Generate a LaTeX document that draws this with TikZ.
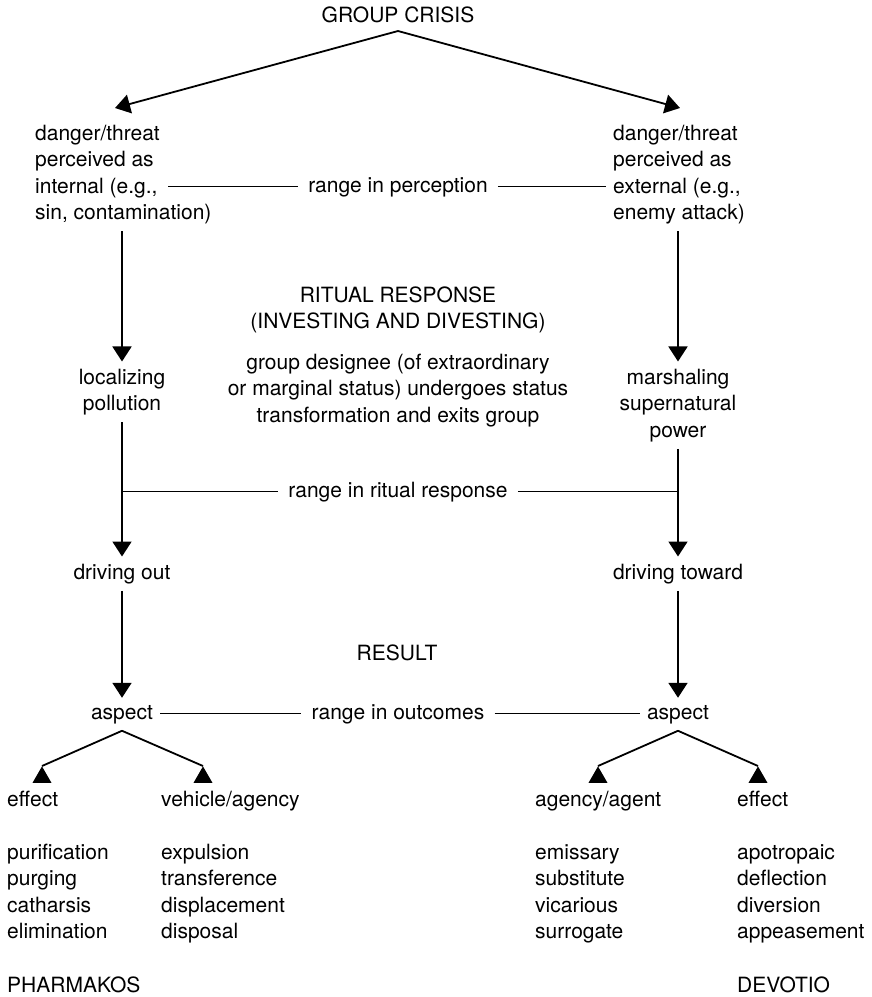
\documentclass[tikz,border=0pt]{standalone}
\usepackage{fontspec}
\setmainfont{TeX Gyre Heros}
\usepackage{tikz}
\usetikzlibrary{
  shapes.geometric,
  arrows.meta,
  positioning
}

\begin{document}
\begin{tikzpicture}[
  x=1pt, y=-1pt,
  font=\fontsize{21}{26.5}\selectfont,
  every node/.style={inner sep=7pt},
  txt/.style={align=left, anchor=base west},
  mid/.style={align=center, anchor=base},
  rangelbl/.style={anchor=base, inner xsep=10pt},
  arrow/.style={
    -{Triangle[length=15pt, width=19pt]},
    line width=1.8pt},
  link/.style={line width=1pt},
  tip/.style={
    regular polygon, regular polygon sides=3,
    fill, inner sep=0pt, minimum size=21.9pt,
    anchor=corner 1}
]
\useasboundingbox (0,0) rectangle (872,997);

\node[mid, anchor=south, inner ysep=8pt, text depth=0pt]
  (crisis) at (398,31) {GROUP CRISIS};
\coordinate (tipI) at (115,108);
\coordinate (tipE) at (680,108);

\node[txt] (thrI) at (28,219.5)
  {danger/threat\\perceived as\\internal (e.g.,\\sin, contamination)};
\node[txt] (thrE) at (606,219.5)
  {danger/threat\\perceived as\\external (e.g.,\\enemy attack)};
\node[rangelbl] (rp) at (398,192) {range in perception};
\coordinate (pcL) at (rp.west -| 168,0);

\node[mid] (ritual) at (398,328.5)
  {RITUAL RESPONSE\\(INVESTING AND DIVESTING)};
\node[mid] (desig) at (398,422)
  {group designee (of extraordinary\\or marginal status) undergoes status\\transformation and exits group};

\node[mid] (locP) at (122,410.5) {localizing\\pollution};
\node[mid] (marP) at (678,437) {marshaling\\supernatural\\power};

\node[rangelbl] (rr) at (398,497) {range in ritual response};

\node[mid] (drvO) at (122,579) {driving out};
\node[mid] (drvT) at (678,579) {driving toward};

\node[mid] (result) at (397,660) {RESULT};

\node[mid] (aspL) at (122,719) {aspect};
\node[mid] (aspR) at (678,719) {aspect};
\node[rangelbl] (ro) at (398,719) {range in outcomes};

\node[tip] (tEL) at (42,766) {};
\node[tip] (tVA) at (203,766) {};
\node[tip] (tAA) at (598,766) {};
\node[tip] (tER) at (758,766) {};

\node[txt] (effL) at (0,806) {effect};
\node[txt] (veh) at (154,806) {vehicle/agency};
\node[txt] (agt) at (528,806) {agency/agent};
\node[txt] (effR) at (730,806) {effect};

\node[txt] (lsEL) at (0,938.5)
  {purification\\purging\\catharsis\\elimination};
\node[txt] (lsVA) at (154,938.5)
  {expulsion\\transference\\displacement\\disposal};
\node[txt] (lsAA) at (528,938.5)
  {emissary\\substitute\\vicarious\\surrogate};
\node[txt] (lsER) at (730,938.5)
  {apotropaic\\deflection\\diversion\\appeasement};

\node[txt] (pharm) at (0,992) {PHARMAKOS};
\node[txt] (devot) at (730,992) {DEVOTIO};

\draw[arrow] (crisis.south) -- (tipI);
\draw[arrow] (crisis.south) -- (tipE);

\draw[link] (pcL) -- (rp.west);
\draw[link] (rp.east) -- (rp.east -| thrE.west);

\draw[arrow] (thrI.south -| locP.north) -- (locP.north);
\draw[arrow] (thrE.south -| marP.north) -- (marP.north);

\draw[link] (drvO.north |- rr.west) -- (rr.west);
\draw[link] (rr.east) -- (rr.east -| drvT.north);

\draw[arrow] (locP.south -| drvO.north) -- (drvO.north);
\draw[arrow] (marP.south -| drvT.north) -- (drvT.north);

\draw[arrow] (drvO) -- (aspL);
\draw[arrow] (drvT) -- (aspR);

\draw[link] (ro.west -| aspL.east) -- (ro.west);
\draw[link] (ro.east) -- (ro.east -| aspR.west);

\foreach \a/\t in {aspL/tEL,aspL/tVA,aspR/tAA,aspR/tER}{
  \draw[line width=1.8pt] (\a.south) -- (\t.corner 1);
}
\end{tikzpicture}
\end{document}
